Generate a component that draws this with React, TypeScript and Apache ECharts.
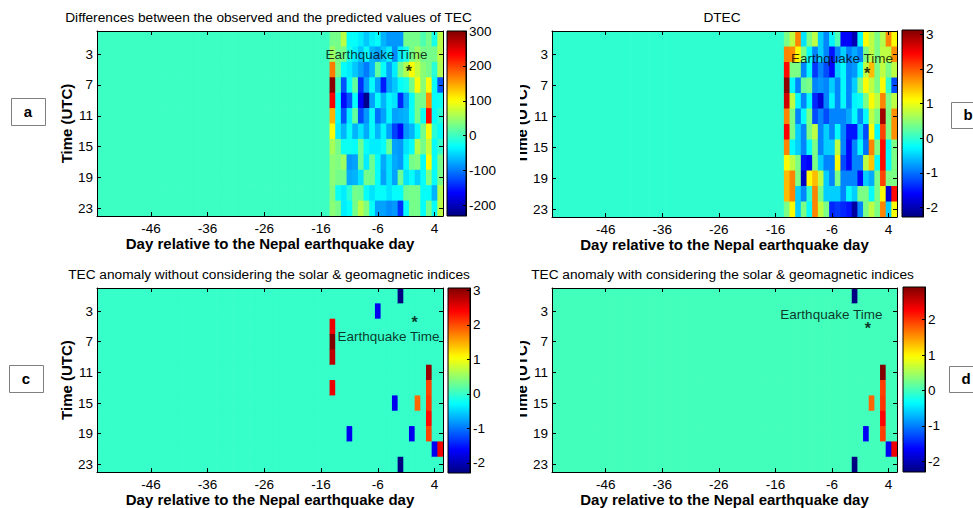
import React, { useEffect, useRef } from "react";
import * as echarts from "echarts";

const FONT = "'Liberation Sans', Arial, Helvetica, sans-serif";

// ---------- axes / categories ----------
const firstDay = -55;
const lastDay = 5;
const allDays: number[] = [];
for (let d = firstDay; d <= lastDay; d++) allDays.push(d);
const hours = [1, 3, 5, 7, 9, 11, 13, 15, 17, 19, 21, 23];
const activeDays = [-14, -13, -12, -11, -10, -9, -8, -7, -6, -5, -4, -3, -2, -1, 0, 1, 2, 3, 4, 5];
const dayTicks = [-46, -36, -26, -16, -6, 4];
const hourTicks = [3, 7, 11, 15, 19, 23];

// ---------- panel a: observed - predicted TEC (rows = hours, cols = activeDays) ----------
const diffTEC: number[][] = [
  [30, 30, 65, -30, -30, -40, -60, -40, -30, -70, -85, -85, -85, 30, 30, 30, 10, 30, -20, 65],
  [50, 30, 30, -20, -40, -60, -30, -70, -80, -60, -40, -90, -40, -20, 30, 50, 30, 30, 30, 65],
  [170, 30, -30, -40, -60, -80, -100, -70, 20, -30, -80, -40, 30, 60, 100, 70, 40, 30, -10, 60],
  [295, 0, -120, -30, 20, -140, -80, -30, -80, -150, -80, -60, -30, -20, 30, 100, 40, 100, -30, -120],
  [235, -30, -160, -120, -30, -165, -225, -80, -30, -70, -35, -45, -145, -80, -30, 30, 30, 160, -30, -25],
  [140, -30, -120, -40, 20, -125, -85, -30, -105, -80, -35, -80, -75, -70, -30, 30, -25, 230, -30, -10],
  [100, -40, -70, -30, -70, -45, -75, -30, -70, -35, -80, -130, -165, -85, -70, -30, 30, 100, -10, -30],
  [55, 30, -25, -25, -30, 25, -30, -40, -40, -30, 25, -80, -85, -45, -30, 60, 30, 70, -30, -5],
  [40, 35, 50, -85, -80, 25, -40, 25, -30, -75, -45, -75, -85, -30, 30, 35, -30, 100, -30, 30],
  [40, 30, 30, -75, -70, -45, 30, 25, -30, -80, -45, -80, 25, -45, -30, -55, -30, 35, -30, 30],
  [35, -25, -40, -10, 30, 25, -30, -45, -30, -30, -45, -30, -30, 25, 30, 30, -30, -30, -70, 60],
  [40, 30, -40, -30, 30, 65, 35, -30, -80, -80, -90, -85, -140, -30, 30, 30, -30, 30, -30, 65],
];

// ---------- panel b: DTEC ----------
const dtec: number[][] = [
  [0.4, 0.75, 1.75, -0.4, 0.4, 0.75, -0.5, -0.9, -0.3, 0.15, -1.6, -1.6, -2.0, -0.25, 1.1, 0.75, 0.4, 0.7, 1.75, 1.1],
  [1.75, 1.7, 1.1, 0.4, -0.25, -0.9, -0.5, -0.9, -1.5, -0.9, -0.5, -0.9, -0.7, -0.9, 0.4, 0.75, 0.4, 0.75, 0.75, 1.7],
  [2.4, 0.4, 0.4, -0.9, -0.25, -1.3, -0.9, -1.2, -1.6, -0.5, -0.25, -0.9, -0.8, -0.25, 0.75, 1.45, 0.4, 0.75, 0.4, 0.75],
  [3.05, -0.25, -0.9, 0.3, 0.4, -0.9, -0.8, -0.9, -0.5, -0.9, -0.25, -0.9, -0.5, 0.4, 1.1, 0.75, 0.4, 1.1, 0.0, -1.2],
  [2.7, 0.75, -0.25, -0.9, -0.25, -1.4, -1.8, -0.9, -0.3, -0.9, -0.25, -0.9, -0.3, -0.2, 0.4, 1.1, 0.75, 1.75, 0.4, 0.75],
  [1.75, 0.4, -0.9, -0.25, 0.4, -1.2, -0.9, -1.2, -0.9, -0.9, -0.9, -0.7, -0.25, -0.9, -0.25, 0.75, 0.4, 2.95, 0.4, 1.7],
  [2.45, 0.4, -0.5, -0.9, 0.4, 0.75, -0.9, -0.5, -0.9, -0.25, -0.9, -1.5, -1.5, -0.5, -1.2, 1.1, -0.25, 2.1, 0.4, 1.7],
  [1.75, -0.25, -0.5, -0.9, -0.25, 0.4, -0.9, -0.5, -0.5, 0.75, -0.9, -1.6, -0.9, -0.25, -1.0, 1.75, 0.4, 2.4, -0.25, 0.4],
  [1.1, 0.75, 0.4, -1.5, -1.6, 0.4, -0.5, -0.9, -0.9, 1.1, -1.2, -1.6, -0.9, -0.9, 0.75, 1.4, -0.25, 2.4, -0.25, 0.4],
  [1.45, 1.75, 0.4, -1.9, 1.1, 1.45, 0.75, -0.5, -0.9, 0.4, -0.9, -0.9, -0.9, -1.6, -0.5, -0.7, 0.4, 2.1, 0.4, 0.4],
  [1.45, 1.75, -0.5, -0.9, 0.0, 1.75, 0.4, -0.5, -0.5, -0.5, -0.9, -0.25, -0.5, 0.4, 0.4, -0.25, 0.4, 1.1, -1.8, 2.4],
  [0.4, 1.1, -0.5, 0.4, -0.25, 1.75, 0.75, 0.4, -1.4, -1.3, -1.4, -1.5, -2.1, -0.9, 0.4, 0.75, 0.4, 1.75, -0.5, 1.1],
];

// ---------- panel c / d: anomalies [day, hour, value]; all other cells are 0 ----------
const anomalyWithout: number[][] = [
  [-2, 1, -2.29], [-6, 3, -1.7], [-14, 5, 2.5], [-14, 7, 3.07], [-14, 9, 2.75], [-14, 13, 2.5],
  [3, 11, 2.95], [3, 13, 2.05], [3, 15, 2.1], [3, 17, 2.35], [3, 19, 2.05], [1, 15, 1.85],
  [-3, 15, -1.7], [-11, 19, -1.7], [0, 19, -1.7], [4, 21, -1.7], [5, 21, 2.45], [-2, 23, -2.29],
];
const anomalyWith: number[][] = [
  [-2, 1, -2.3], [3, 11, 2.92], [3, 13, 1.95], [3, 15, 2.0], [3, 17, 2.25], [3, 19, 1.95],
  [1, 15, 1.75], [0, 19, -1.7], [4, 21, -1.7], [5, 21, 2.35], [-2, 23, -2.3],
];

const panelTitles = [
  "Differences between the observed and the predicted values of TEC",
  "DTEC",
  "TEC anomaly without considering the solar & geomagnetic indices",
  "TEC anomaly with considering the solar & geomagnetic indices",
];
const panelLetters = ["a", "b", "c", "d"];
const colorRanges = [[-230, 300], [-2.27, 3.12], [-2.29, 3.07], [-2.3, 2.92]];
const colorTicks = [
  [-200, -100, 0, 100, 200, 300],
  [-2, -1, 0, 1, 2, 3],
  [-2, -1, 0, 1, 2, 3],
  [-2, -1, 0, 1, 2],
];
const eqTextPos = [[-6.24, 3.0], [-4.23, 3.55], [-4.1, 6.35], [-6.1, 3.4]];
const eqStarPos = [[-0.5, 5.3], [0.2, 5.45], [0.5, 4.5], [0.35, 5.25]];

const xLabel = "Day relative to the Nepal earthquake day";
const yLabel = "Time (UTC)";

// ---------- helpers ----------
function fromRows(rows: number[][]) {
  const out: number[][] = [];
  allDays.forEach((d) =>
    hours.forEach((h, hi) => {
      const ci = activeDays.indexOf(d);
      out.push([d, h, ci >= 0 ? rows[hi][ci] : 0]);
    })
  );
  return out;
}
function fromCells(cells: number[][]) {
  const out: number[][] = [];
  allDays.forEach((d) =>
    hours.forEach((h) => {
      const c = cells.find((e) => e[0] === d && e[1] === h);
      out.push([d, h, c ? c[2] : 0]);
    })
  );
  return out;
}
function jet(t: number) {
  const c = (v: number) => Math.max(0, Math.min(1, v));
  const r = c(Math.min(4 * t - 1.5, -4 * t + 4.5));
  const g = c(Math.min(4 * t - 0.5, -4 * t + 3.5));
  const b = c(Math.min(4 * t + 0.5, -4 * t + 2.5));
  const h = (v: number) => Math.round(v * 255).toString(16).padStart(2, "0");
  return "#" + h(r) + h(g) + h(b);
}
const JET = Array.from({ length: 64 }, (_, i) => jet(i / 63));

const mainGrids = [
  { left: 97, top: 31, width: 346, height: 185 },
  { left: 552, top: 31, width: 345, height: 186 },
  { left: 97, top: 288, width: 346, height: 185 },
  { left: 552, top: 288, width: 345, height: 185 },
];
const barGrids = [
  { left: 447, top: 31, width: 19, height: 185 },
  { left: 902, top: 30, width: 21, height: 187 },
  { left: 448, top: 288, width: 22, height: 185 },
  { left: 903, top: 287, width: 22, height: 185 },
];

export default function App() {
  const ref = useRef<HTMLDivElement>(null);
  useEffect(() => {
    if (!ref.current) return;
    const chart = echarts.init(ref.current, null, { renderer: "svg" });
    const datasets = [fromRows(diffTEC), fromRows(dtec), fromCells(anomalyWithout), fromCells(anomalyWith)];

    const grid: any[] = [];
    const xAxis: any[] = [];
    const yAxis: any[] = [];
    const series: any[] = [];
    const visualMap: any[] = [];

    const tickFont = { color: "#000", fontSize: 13.5, fontFamily: FONT };
    const nameFont = { color: "#000", fontSize: 15, fontWeight: "bold", fontFamily: FONT };
    const blackLine = { color: "#000", width: 1 };

    const renderCell = (params: any, api: any) => {
      const d = api.value(0);
      const h = api.value(1);
      const p0 = api.coord([d - 0.5, h - 1]);
      const p1 = api.coord([d + 0.5, h + 1]);
      return {
        type: "rect",
        shape: {
          x: Math.min(p0[0], p1[0]),
          y: Math.min(p0[1], p1[1]),
          width: Math.abs(p1[0] - p0[0]) + 0.7,
          height: Math.abs(p1[1] - p0[1]) + 0.7,
        },
        style: { fill: api.visual("color") },
      };
    };
    const stops = JET.map((c, i) => ({ offset: i / 63, color: c }));
    const renderBar = (params: any, api: any) => {
      const p0 = api.coord([0, api.value(1)]);
      const p1 = api.coord([1, api.value(2)]);
      return {
        type: "rect",
        shape: { x: p0[0], y: p1[1], width: p1[0] - p0[0], height: p0[1] - p1[1] },
        style: {
          fill: new echarts.graphic.LinearGradient(0, 1, 0, 0, stops),
          stroke: "#000",
          lineWidth: 1,
        },
      };
    };

    for (let p = 0; p < 4; p++) {
      grid.push({ ...mainGrids[p], show: false, containLabel: false });
      grid.push({ ...barGrids[p], show: false, containLabel: false });
      const gMain = 2 * p;
      const gBar = 2 * p + 1;
      xAxis.push({
        type: "value", gridIndex: gMain, position: "bottom", min: -55.5, max: 5.5, z: 5,
        axisLine: { show: true, onZero: false, lineStyle: blackLine },
        axisTick: { show: true, inside: true, length: 4, customValues: dayTicks, lineStyle: blackLine },
        axisLabel: { show: true, customValues: dayTicks, margin: 5, ...tickFont },
        splitLine: { show: false },
        name: xLabel, nameLocation: "middle", nameGap: 19, nameTextStyle: nameFont,
      });
      xAxis.push({
        type: "value", gridIndex: gMain, position: "top", min: -55.5, max: 5.5, z: 5,
        axisLine: { show: true, onZero: false, lineStyle: blackLine },
        axisTick: { show: true, inside: true, length: 4, customValues: dayTicks, lineStyle: blackLine },
        axisLabel: { show: false },
        splitLine: { show: false },
      });
      xAxis.push({ type: "value", gridIndex: gBar, min: 0, max: 1, show: false });
      yAxis.push({
        type: "value", gridIndex: gMain, position: "left", inverse: true, min: 0, max: 24, z: 5,
        axisLine: { show: true, onZero: false, lineStyle: blackLine },
        axisTick: { show: true, inside: true, length: 4, customValues: hourTicks, lineStyle: blackLine },
        axisLabel: { show: true, customValues: hourTicks, margin: 4, ...tickFont },
        splitLine: { show: false },
        name: yLabel, nameLocation: "middle", nameGap: 22, nameTextStyle: nameFont,
      });
      yAxis.push({
        type: "value", gridIndex: gMain, position: "right", inverse: true, min: 0, max: 24, z: 5,
        axisLine: { show: true, onZero: false, lineStyle: blackLine },
        axisTick: { show: true, inside: true, length: 4, customValues: hourTicks, lineStyle: blackLine },
        axisLabel: { show: false },
        splitLine: { show: false },
      });
      yAxis.push({
        type: "value", gridIndex: gBar, position: "right", min: colorRanges[p][0], max: colorRanges[p][1], z: 5,
        axisLine: { show: true, onZero: false, lineStyle: blackLine },
        axisTick: { show: true, inside: true, length: 3, customValues: colorTicks[p], lineStyle: blackLine },
        axisLabel: { show: true, customValues: colorTicks[p], margin: 3, ...tickFont },
        splitLine: { show: false },
      });

      const heatIndex = series.length;
      series.push({
        type: "custom", xAxisIndex: 3 * p, yAxisIndex: 3 * p, data: datasets[p],
        encode: { x: 0, y: 1 }, renderItem: renderCell, clip: true, silent: true,
      });
      visualMap.push({
        type: "continuous", show: false, seriesIndex: heatIndex, dimension: 2,
        min: colorRanges[p][0], max: colorRanges[p][1], inRange: { color: JET },
      });
      series.push({
        type: "scatter", xAxisIndex: 3 * p, yAxisIndex: 3 * p, data: [eqTextPos[p]],
        symbolSize: 1, itemStyle: { color: "transparent" }, silent: true, z: 6,
        label: { show: true, position: "inside", formatter: "Earthquake Time", ...tickFont },
      });
      series.push({
        type: "scatter", xAxisIndex: 3 * p, yAxisIndex: 3 * p, data: [eqStarPos[p]],
        symbolSize: 1, itemStyle: { color: "transparent" }, silent: true, z: 6,
        label: { show: true, position: "inside", formatter: "*", ...tickFont, fontSize: 16, fontWeight: "bold" },
      });
      series.push({
        type: "custom", xAxisIndex: 3 * p + 2, yAxisIndex: 3 * p + 2,
        data: [[0, colorRanges[p][0], colorRanges[p][1]]],
        encode: { x: 0, y: [1, 2] }, renderItem: renderBar, silent: true,
      });
    }

    const titlePos = [[268.5, 17], [722, 17], [269, 274], [722.5, 274]];
    const boxes = [
      { x: 11, y: 98, w: 34, h: 27, tx: 28, ty: 111.5 },
      { x: 951, y: 102, w: 34, h: 26, tx: 968, ty: 114.5 },
      { x: 9, y: 365, w: 34, h: 27, tx: 26, ty: 378.5 },
      { x: 949, y: 366, w: 34, h: 26, tx: 966, ty: 378.5 },
    ];
    const graphic: any[] = [];
    for (let p = 0; p < 4; p++) {
      graphic.push({
        type: "text", x: titlePos[p][0], y: titlePos[p][1], z: 100,
        style: { text: panelTitles[p], fill: "#000", font: `13.7px ${FONT}`, textAlign: "center", textVerticalAlign: "middle" },
      });
      const b = boxes[p];
      graphic.push({
        type: "rect", shape: { x: b.x + 0.5, y: b.y + 0.5, width: b.w, height: b.h }, z: 100,
        style: { fill: "#fff", stroke: "#7f7f7f", lineWidth: 1 },
      });
      graphic.push({
        type: "text", x: b.tx, y: b.ty, z: 101,
        style: { text: panelLetters[p], fill: "#000", font: `bold 15px ${FONT}`, textAlign: "center", textVerticalAlign: "middle" },
      });
    }
    // the right-hand panels were cropped on their left edge in the original figure
    graphic.push({ type: "rect", shape: { x: 505, y: 60, width: 15, height: 140 }, z: 100, style: { fill: "#fff" } });
    graphic.push({ type: "rect", shape: { x: 505, y: 320, width: 15, height: 140 }, z: 100, style: { fill: "#fff" } });

    chart.setOption({
      animation: false,
      backgroundColor: "#fff",
      textStyle: { fontFamily: FONT },
      grid, xAxis, yAxis, series, visualMap, graphic,
    });
    return () => chart.dispose();
  }, []);
  return <div ref={ref} style={{ position: "fixed", left: 0, top: 0, width: 973, height: 508 }} />;
}
